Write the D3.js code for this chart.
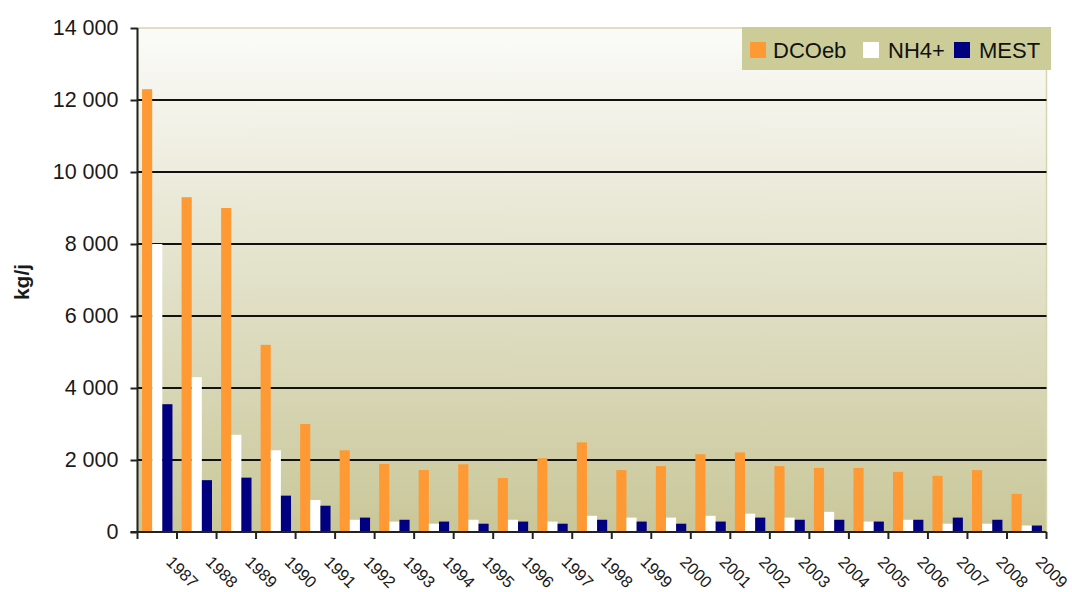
<!DOCTYPE html>
<html><head><meta charset="utf-8">
<script src="https://cdn.jsdelivr.net/npm/d3@7"></script>
<style>
html,body{margin:0;padding:0;background:#fff;}
svg{display:block;font-family:"Liberation Sans",Arial,sans-serif;}
</style></head>
<body>
<svg id="c" width="1072" height="592"></svg>
<script>
const years = ["1987","1988","1989","1990","1991","1992","1993","1994","1995","1996","1997","1998","1999","2000","2001","2002","2003","2004","2005","2006","2007","2008","2009"];
const seriesNames = ["DCOeb","NH4+","MEST"];
const dcoeb = [12300,9300,9000,5200,3000,2270,1890,1720,1880,1500,2050,2490,1720,1830,2160,2210,1830,1780,1780,1670,1560,1720,1060];
const nh4 = [8000,4300,2700,2270,890,340,290,230,340,340,290,450,400,400,450,510,400,560,290,340,230,230,180];
const mest = [3550,1440,1510,1010,730,400,340,290,230,290,230,340,290,230,290,400,340,340,290,340,400,340,180];
const yTicks = [0,2000,4000,6000,8000,10000,12000,14000];
const colors = ["#ff9933","#ffffff","#000080"];
const values = [dcoeb, nh4, mest];

const svg = d3.select("#c");
const L = 137.5, R = 1046.5, T = 28, B = 532;

const x0 = d3.scaleBand().domain(years).range([L, R]).padding(0);
const x1 = d3.scaleBand().domain(seriesNames).range([0, x0.bandwidth()]).paddingInner(0).paddingOuter(0.45);
const y = d3.scaleLinear().domain([0, 14000]).range([B, T]);

const loc = d3.formatLocale({decimal:",", thousands:"\u00a0", grouping:[3], currency:["",""]});
const fmt = loc.format(",d");

// background gradient
const defs = svg.append("defs");
const g = defs.append("linearGradient").attr("id","bg").attr("x1",0).attr("y1",0).attr("x2",0).attr("y2",1);
g.append("stop").attr("offset","0%").attr("stop-color","#fbfbf9");
g.append("stop").attr("offset","100%").attr("stop-color","#c9c799");
svg.append("rect").attr("x",L).attr("y",T).attr("width",R-L).attr("height",B-T).attr("fill","url(#bg)")
  .attr("stroke","#d6d5ae").attr("stroke-width",1.5);

// gridlines
svg.append("g").selectAll("line").data(yTicks.filter(d=>d>0 && d<14000)).join("line")
  .attr("x1",L).attr("x2",R).attr("y1",d=>y(d)).attr("y2",d=>y(d))
  .attr("stroke","#111").attr("stroke-width",2);

// bars
const groups = svg.append("g").selectAll("g").data(years).join("g")
  .attr("transform",d=>`translate(${x0(d)},0)`);
groups.selectAll("rect").data((d,i)=>seriesNames.map((s,k)=>({s, v: values[k][i], k}))).join("rect")
  .attr("x",d=>x1(d.s)).attr("width",x1.bandwidth())
  .attr("y",d=>y(d.v)).attr("height",d=>B - y(d.v))
  .attr("fill",d=>colors[d.k]);

// y axis
const yAxis = d3.axisLeft(y).tickValues(yTicks).tickFormat(fmt).tickSize(7).tickPadding(12);
const ya = svg.append("g").attr("transform",`translate(${L},0)`).call(yAxis);
ya.select(".domain").attr("stroke","#222").attr("stroke-width",2).attr("d",`M0,${B}V${T}`);
ya.selectAll(".tick line").attr("stroke","#222").attr("stroke-width",2);
ya.selectAll(".tick text").attr("font-size",21.5).attr("fill","#1a1a1a").attr("font-family","'Liberation Sans',Arial,sans-serif");

// x axis
const xa = svg.append("g");
xa.append("line").attr("x1",L-7).attr("x2",R).attr("y1",B).attr("y2",B).attr("stroke","#222").attr("stroke-width",2);
const bounds = years.map(d=>x0(d)).concat([x0(years[years.length-1]) + x0.bandwidth()]);
xa.selectAll("line.t").data(bounds).join("line").attr("class","t")
  .attr("x1",d=>d).attr("x2",d=>d).attr("y1",B).attr("y2",B+7)
  .attr("stroke","#222").attr("stroke-width",2);
xa.selectAll("text").data(years).join("text")
  .attr("transform",d=>`translate(${x0(d)+x0.bandwidth()/2+8},563) rotate(45)`)
  .attr("text-anchor","start").attr("font-size",16.5).attr("fill","#1a1a1a")
  .text(d=>d);

// y label
svg.append("text").attr("transform","translate(29,282) rotate(-90)")
  .attr("text-anchor","middle").attr("font-size",21).attr("font-weight","bold").attr("fill","#1a1a1a")
  .text("kg/j");

// legend
const lg = svg.append("g");
lg.append("rect").attr("x",742).attr("y",27).attr("width",309).attr("height",43).attr("fill","#cccc99");
const legX = [750, 863, 954];
const legTX = [773, 888, 979];
seriesNames.forEach((s,k)=>{
  lg.append("rect").attr("x",legX[k]).attr("y",42).attr("width",16).attr("height",16).attr("fill",colors[k]);
  lg.append("text").attr("x",legTX[k]).attr("y",58).attr("font-size",22).attr("fill","#111").text(s);
});
</script>
</body></html>
